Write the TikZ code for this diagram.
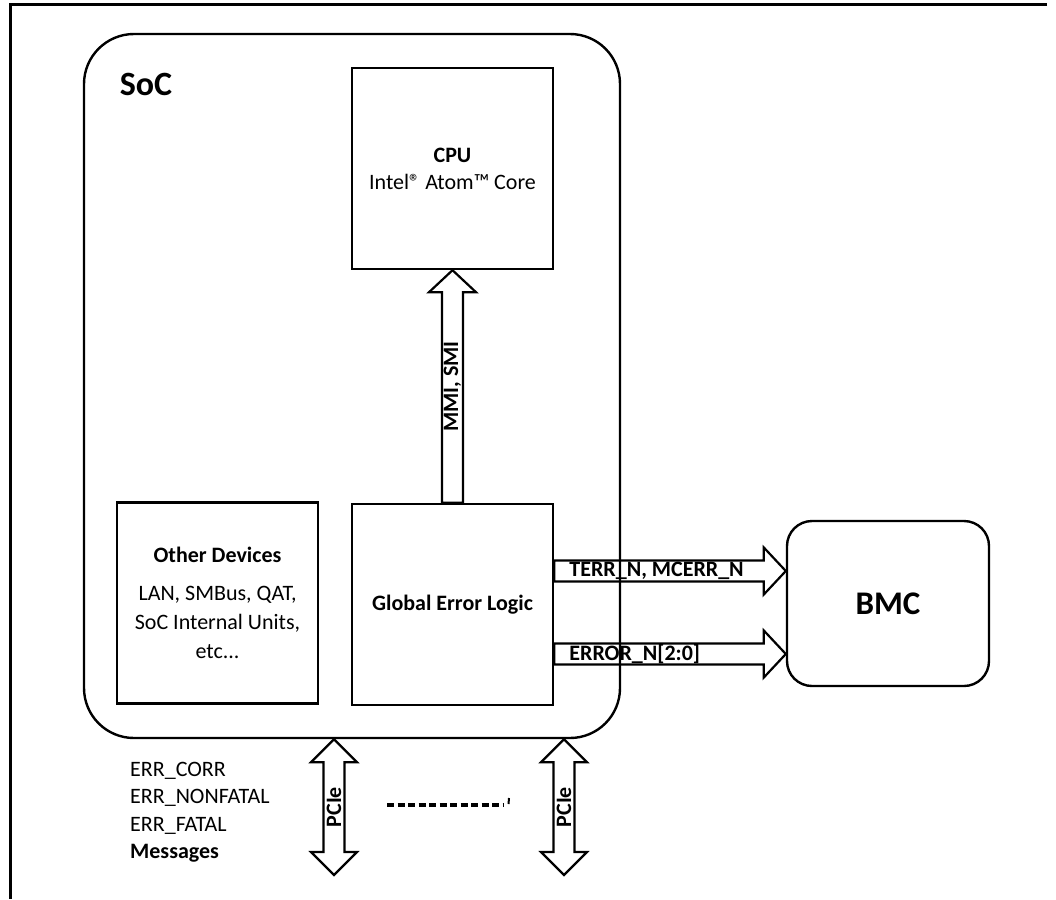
\documentclass[tikz,border=0pt]{standalone}
\usepackage{fontspec}
\setmainfont{Carlito}
\usetikzlibrary{calc, positioning}

\begin{document}
\begin{tikzpicture}[x=1pt, y=-1pt,
  box/.style={draw, line width=2.4pt, minimum width=201pt, minimum height=201pt,
    inner sep=0pt, align=center, font=\fontsize{22}{27}\selectfont},
  lbl/.style={font=\fontsize{22}{26}\selectfont\bfseries, inner sep=0pt},
  fatarrow/.style={line width=2.2pt, to path={
    let \p1=(\tikztostart), \p2=(\tikztotarget), \n1={atan2(\y2-\y1,\x2-\x1)} in
    ($(\p1)+(\n1+90:10.5pt)$) -- ($(\p2)+(\n1+180:22pt)+(\n1+90:10.5pt)$)
    -- ($(\p2)+(\n1+180:22pt)+(\n1+90:23.5pt)$) -- (\p2)
    -- ($(\p2)+(\n1+180:22pt)+(\n1-90:23.5pt)$) -- ($(\p2)+(\n1+180:22pt)+(\n1-90:10.5pt)$)
    -- ($(\p1)+(\n1-90:10.5pt)$) -- cycle}},
  twoway/.style={line width=2.2pt, to path={
    let \p1=(\tikztostart), \p2=(\tikztotarget), \n1={atan2(\y2-\y1,\x2-\x1)} in
    (\p1) -- ($(\p1)+(\n1:23pt)+(\n1+90:23pt)$) -- ($(\p1)+(\n1:23pt)+(\n1+90:10.5pt)$)
    -- ($(\p2)+(\n1+180:23pt)+(\n1+90:10.5pt)$) -- ($(\p2)+(\n1+180:23pt)+(\n1+90:23pt)$)
    -- (\p2) -- ($(\p2)+(\n1+180:23pt)+(\n1-90:23pt)$) -- ($(\p2)+(\n1+180:23pt)+(\n1-90:10.5pt)$)
    -- ($(\p1)+(\n1:23pt)+(\n1-90:10.5pt)$) -- ($(\p1)+(\n1:23pt)+(\n1-90:23pt)$) -- cycle}}]

  \useasboundingbox (0,0) rectangle (1056,899);
  % page frame (top and left only)
  \draw[line width=3pt] (1047,5) -- (10,5) -- (10,899);

  % SoC
  \node[draw, line width=2.4pt, rounded corners=50pt, minimum width=536pt,
        minimum height=704pt] (soc) at (352,386) {};
  \node[font=\fontsize{34}{40}\selectfont\bfseries, inner sep=0pt] (soctitle) at (146,84) {SoC};

  % blocks
  \node[box] (cpu) at (452.5,168.5) {\textbf{CPU}\\Intel® Atom™ Core};
  \node[box] (gel) at (452.5,604.5) {\textbf{Global Error Logic}};
  \node[box, font=\fontsize{22}{29}\selectfont] (others) at (217.5,603)
       {\textbf{Other Devices}\\[9pt]LAN, SMBus, QAT,\\SoC Internal Units,\\etc...};
  \node[box, rounded corners=25pt, minimum width=202pt, minimum height=165pt] (bmc)
       at (888,603.5) {\fontsize{33}{38}\selectfont\bfseries BMC};

  % GEL -> CPU
  \draw[fatarrow] (gel.north) to (cpu.south);
  \node[lbl, rotate=90] (mmi) at ($(gel.north)!0.5!(cpu.south)$) {MMI, SMI};

  % GEL -> BMC
  \coordinate (terr) at ($(gel.east)+(0,-33.5)$);
  \coordinate (err) at ($(gel.east)+(0,49.5)$);
  \draw[fatarrow] (terr) to (terr -| bmc.west);
  \draw[fatarrow] (err) to (err -| bmc.west);
  \node[lbl, anchor=west] (terrlbl) at ($(terr)+(15,0)$) {TERR\_N, MCERR\_N};
  \node[lbl, anchor=west] (errlbl) at ($(err)+(15,0)$) {ERROR\_N[2:0]};

  % PCIe links
  \coordinate (pcieA) at (334,875);
  \coordinate (pcieB) at (564,875);
  \draw[twoway] (pcieA |- soc.south) to (pcieA);
  \draw[twoway] (pcieB |- soc.south) to (pcieB);
  \node[lbl, rotate=90] (pcieAlbl) at ($(pcieA |- soc.south)!0.5!(pcieA)$) {PCIe};
  \node[lbl, rotate=90] (pcieBlbl) at ($(pcieB |- soc.south)!0.5!(pcieB)$) {PCIe};
  \draw[line width=3.5pt, dash pattern=on 7pt off 3.5pt] (387,805) -- (503,805);
  \draw[line width=2pt] (509,798) -- (508.5,804);

  % PCIe messages
  \node[font=\fontsize{22}{27.5}\selectfont, align=left, anchor=north west, inner sep=0pt]
       (errmsgs) at (130,762) {ERR\_CORR\\ERR\_NONFATAL\\ERR\_FATAL\\\textbf{Messages}};
\end{tikzpicture}
\end{document}
